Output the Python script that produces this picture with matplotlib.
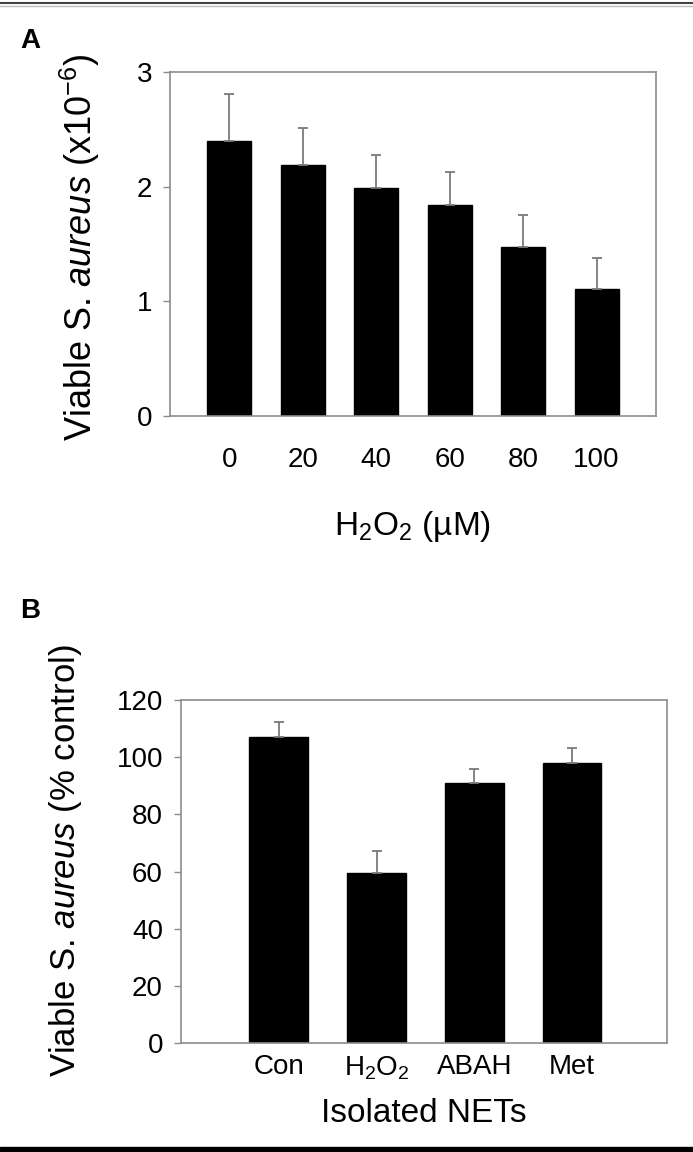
import matplotlib
matplotlib.use("Agg")
import matplotlib.pyplot as plt
from matplotlib.lines import Line2D
from matplotlib.patches import Rectangle

plt.rcParams['font.family'] = ['Liberation Sans', 'DejaVu Sans']
plt.rcParams['mathtext.fontset'] = 'custom'
plt.rcParams['mathtext.rm'] = 'Liberation Sans'
plt.rcParams['mathtext.it'] = 'Liberation Sans:italic'
plt.rcParams['mathtext.bf'] = 'Liberation Sans:bold'

# panel A data
h2o2 = ['0', '20', '40', '60', '80', '100']
viable_a = [2.40, 2.19, 1.99, 1.84, 1.47, 1.11]
err_a = [0.41, 0.32, 0.29, 0.29, 0.28, 0.27]

# panel B data
groups_b = ['Con', 'H$_2$O$_2$', 'ABAH', 'Met']
viable_b = [107, 59.5, 90.8, 98.1]
err_b = [5.3, 7.6, 5.0, 5.2]

W, H = 693, 1152
fig = plt.figure(figsize=(W / 100, H / 100), dpi=100)

spine_col = '#8c8c8c'


def box(l, t, r, b):
    return [l / W, 1 - b / H, (r - l) / W, (b - t) / H]


def style(ax):
    for s in ax.spines.values():
        s.set_color(spine_col)
        s.set_linewidth(1.2)
    ax.tick_params(axis='y', direction='out', length=5, width=1.0,
                   color=spine_col, pad=8)
    ax.tick_params(axis='x', length=0)


# ---- A ----
axA = fig.add_axes(box(170, 72, 656, 416))
xa = list(range(len(h2o2)))
axA.bar(xa, viable_a, width=0.6, color='black', edgecolor='black',
        yerr=[[0] * len(err_a), err_a], ecolor='#7a7a7a',
        error_kw=dict(elinewidth=1.3, capsize=3.5, capthick=1.3))
axA.set_xlim(-0.81, 5.81)
axA.set_ylim(0, 3)
axA.set_yticks([0, 1, 2, 3])
axA.set_xticks(xa)
axA.set_xticklabels(h2o2)
style(axA)
axA.tick_params(axis='both', labelsize=20)
axA.tick_params(axis='x', pad=22)
axA.set_xlabel('H$_2$O$_2$ (µM)', fontsize=24, labelpad=26)
axA.set_ylabel('Viable S. $\\mathit{aureus}$ (x10$^{-6}$)', fontsize=26)
axA.yaxis.set_label_coords(-0.14, 0.49)

# ---- B ----
axB = fig.add_axes(box(181, 700, 667, 1043))
xb = list(range(len(groups_b)))
axB.bar(xb, viable_b, width=0.6, color='black', edgecolor='black',
        yerr=[[0] * len(err_b), err_b], ecolor='#7a7a7a',
        error_kw=dict(elinewidth=1.3, capsize=3.5, capthick=1.3))
axB.set_xlim(-1.0, 3.97)
axB.set_ylim(0, 120)
axB.set_yticks(range(0, 121, 20))
axB.set_xticks(xb)
axB.set_xticklabels(groups_b)
style(axB)
axB.tick_params(axis='both', labelsize=20)
axB.tick_params(axis='x', pad=8)
axB.set_xlabel('Isolated NETs', fontsize=24, labelpad=12)
axB.set_ylabel('Viable S. $\\mathit{aureus}$ (% control)', fontsize=25)
axB.yaxis.set_label_coords(-0.2, 0.53)

# panel letters
fig.text(20 / W, 1 - 48 / H, 'A', fontsize=20, fontweight='bold')
fig.text(20 / W, 1 - 618 / H, 'B', fontsize=20, fontweight='bold')

# frame lines
fig.add_artist(Line2D([0, 1], [1 - 3 / H, 1 - 3 / H], color='#444444', lw=1.5))
fig.add_artist(Line2D([0, 1], [1 - 6 / H, 1 - 6 / H], color='#bbbbbb', lw=1.0))
fig.add_artist(Rectangle((0, 0), 1, 5 / H, transform=fig.transFigure,
                         color='black'))

fig.savefig('out.png', dpi=100)
